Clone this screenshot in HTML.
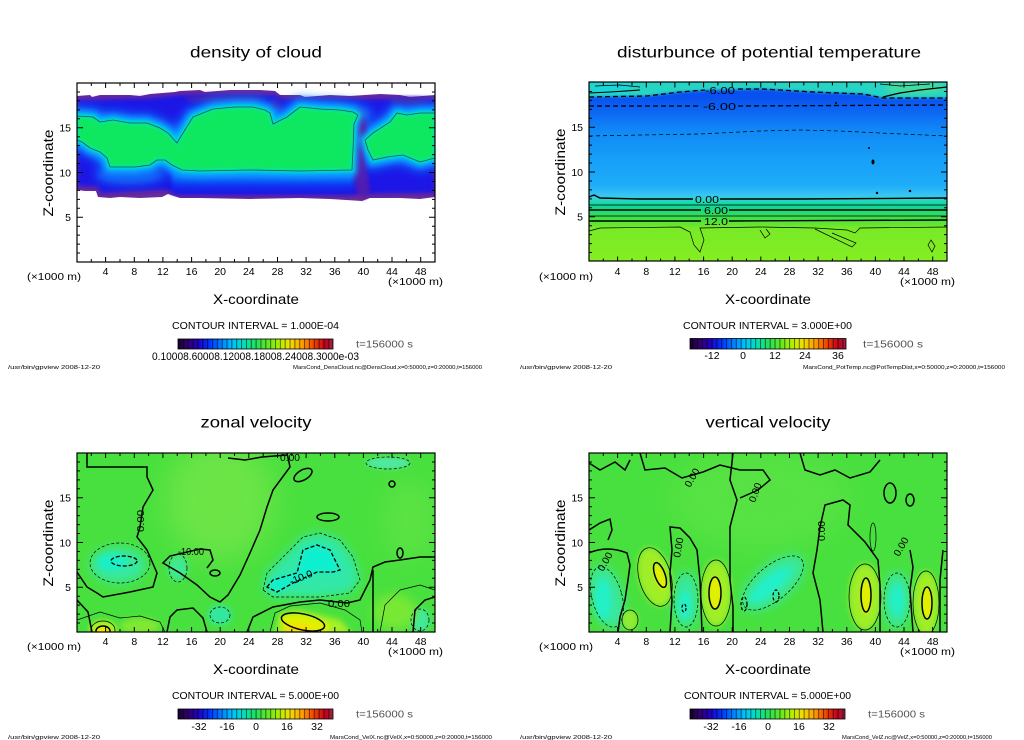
<!DOCTYPE html>
<html><head><meta charset="utf-8"><style>
html,body{margin:0;padding:0;background:#fff;}
svg{display:block;}
text{font-family:"Liberation Sans",sans-serif;fill:#000;}
</style></head><body>
<svg width="1024" height="740" viewBox="0 0 1024 740" xmlns="http://www.w3.org/2000/svg">
<defs>
<filter id="f1" x="-30%" y="-30%" width="160%" height="160%"><feGaussianBlur stdDeviation="1.2"/></filter>
<filter id="f2" x="-30%" y="-30%" width="160%" height="160%"><feGaussianBlur stdDeviation="2"/></filter>
<filter id="f3" x="-60%" y="-60%" width="220%" height="220%"><feGaussianBlur stdDeviation="3"/></filter>
<filter id="f5" x="-80%" y="-80%" width="260%" height="260%"><feGaussianBlur stdDeviation="5"/></filter>
<filter id="f8" x="-100%" y="-100%" width="300%" height="300%"><feGaussianBlur stdDeviation="8"/></filter>
<filter id="f14" x="-100%" y="-100%" width="300%" height="300%"><feGaussianBlur stdDeviation="14"/></filter>
<clipPath id="cA"><rect x="77" y="83" width="358" height="179"/></clipPath>
<clipPath id="cB"><rect x="589" y="82" width="358" height="179"/></clipPath>
<clipPath id="cC"><rect x="77" y="453" width="358" height="179"/></clipPath>
<clipPath id="cD"><rect x="589" y="453" width="358" height="179"/></clipPath>
<linearGradient id="rb" x1="0" y1="0" x2="1" y2="0">
<stop offset="0" stop-color="#1a0030"/><stop offset="0.06" stop-color="#30006a"/><stop offset="0.13" stop-color="#2000c0"/><stop offset="0.2" stop-color="#0030ff"/><stop offset="0.28" stop-color="#0080ff"/><stop offset="0.35" stop-color="#00c0ff"/><stop offset="0.42" stop-color="#00e0c0"/><stop offset="0.5" stop-color="#20e060"/><stop offset="0.58" stop-color="#60e820"/><stop offset="0.66" stop-color="#b8f000"/><stop offset="0.72" stop-color="#f0e000"/><stop offset="0.8" stop-color="#ffa000"/><stop offset="0.88" stop-color="#f04000"/><stop offset="0.95" stop-color="#c00020"/><stop offset="1" stop-color="#a02040"/>
</linearGradient>
<pattern id="seg" patternUnits="userSpaceOnUse" x="178" y="0" width="4.85" height="20"><rect x="0" y="0" width="1" height="20" fill="#000" fill-opacity="0.55"/></pattern>
<linearGradient id="gB" gradientUnits="userSpaceOnUse" x1="0" y1="82" x2="0" y2="261">
<stop offset="0" stop-color="#0a50f0"/><stop offset="0.084" stop-color="#0a50f0"/><stop offset="0.156" stop-color="#0c64f2"/><stop offset="0.268" stop-color="#1088f6"/><stop offset="0.436" stop-color="#16a0f8"/><stop offset="0.575" stop-color="#1eacf8"/><stop offset="0.631" stop-color="#38c4f4"/><stop offset="0.654" stop-color="#30d4d0"/><stop offset="0.676" stop-color="#18d8a8"/><stop offset="0.704" stop-color="#10d890"/><stop offset="0.732" stop-color="#28dc68"/><stop offset="0.76" stop-color="#40e048"/><stop offset="0.788" stop-color="#5ce434"/><stop offset="0.816" stop-color="#78ea26"/><stop offset="1" stop-color="#84ee22"/>
</linearGradient>
<linearGradient id="gAlow" x1="0" y1="0" x2="0" y2="1">
<stop offset="0" stop-color="#20b0ff"/><stop offset="0.3" stop-color="#0a80ff"/><stop offset="0.65" stop-color="#1030f0"/><stop offset="1" stop-color="#1a14e6"/>
</linearGradient>
</defs>
<rect width="1024" height="740" fill="#fff"/>

<!-- ================= PANEL A ================= -->
<g clip-path="url(#cA)">
<path fill="#6b2b9b" d="M77,96 L90,95 L92,97 L100,95 L130,95 L140,96 L150,94 L175,92 L180,91 L200,90 L205,92 L230,90 L260,90 L275,91 L280,95 L300,95 L305,97 L330,95 L350,96 L380,94 L400,95 L410,97 L435,95 L435,197 L420,199 L400,198 L370,198 L362,201 L330,199 L300,198 L250,199 L200,198 L180,198 L168,194 L162,197 L140,198 L120,197 L110,198 L98,197 L96,191 L85,191 L77,190 Z"/>
<path fill="#1a14e6" filter="url(#f2)" d="M77,100 L150,98 L180,95 L275,95 L282,99 L435,99 L435,193 L370,194 L300,194 L180,194 L165,190 L100,193 L98,187 L77,186 Z"/>
<ellipse cx="225" cy="99" rx="40" ry="4" fill="#4a20b0" filter="url(#f2)"/>
<ellipse cx="275" cy="110" rx="7" ry="12" fill="#3a1cc0" filter="url(#f2)"/>
<ellipse cx="410" cy="101" rx="20" ry="4" fill="#4a20b0" filter="url(#f2)"/>
<ellipse cx="130" cy="175" rx="35" ry="9" fill="#1090ff" opacity="0.7" filter="url(#f5)"/>
<rect x="172" y="166" width="182" height="28" fill="url(#gAlow)" filter="url(#f2)"/>
<g fill="none" stroke="#0a78ff" stroke-width="18" filter="url(#f5)">
<path d="M77,116 L93,117 L100,122 L113,120 L130,123 L147,123 L160,128 L168,133 L177,143 L183,133 L193,117 L213,109 L235,107 L253,107 L265,110 L270,113 L273,124 L287,117 L300,107 L320,109 L340,110 L353,112 L360,115 L354,124 L353,150 L352,170 L300,171 L250,170 L200,171 L182,170 L172,165 L165,160 L157,160 L150,165 L135,167 L120,167 L110,167 L107,158 L100,152 L90,148 L82,142 L77,140 Z"/>
<path d="M363,140 L373,133 L390,122 L397,113 L407,115 L420,113 L435,113 L435,158 L420,162 L403,155 L387,157 L373,160 L367,150 Z"/>
</g>
<path fill="#5a1ea8" opacity="0.85" filter="url(#f2)" d="M353,112 L362,110 L368,130 L365,160 L370,190 L364,200 L356,190 L351,150 Z"/>
<g fill="#00c0ff" stroke="#00c0ff" stroke-width="9" filter="url(#f3)">
<path d="M77,116 L93,117 L100,122 L113,120 L130,123 L147,123 L160,128 L168,133 L177,143 L183,133 L193,117 L213,109 L235,107 L253,107 L265,110 L270,113 L273,124 L287,117 L300,107 L320,109 L340,110 L353,112 L358,115 L354,124 L353,150 L352,170 L300,171 L250,170 L200,171 L182,170 L172,165 L165,160 L157,160 L150,165 L135,167 L120,167 L110,167 L107,158 L100,152 L90,148 L82,142 L77,140 Z"/>
<path d="M365,140 L373,133 L390,122 L397,113 L407,115 L420,113 L435,113 L435,158 L420,162 L403,155 L387,157 L373,160 L368,150 Z"/>
</g>
<g fill="#10e860" stroke="#00e0b0" stroke-width="3" filter="url(#f1)">
<path d="M77,116 L93,117 L100,122 L113,120 L130,123 L147,123 L160,128 L168,133 L177,143 L183,133 L193,117 L213,109 L235,107 L253,107 L265,110 L270,113 L273,124 L287,117 L300,107 L320,109 L340,110 L353,112 L358,115 L354,124 L353,150 L352,170 L300,171 L250,170 L200,171 L182,170 L172,165 L165,160 L157,160 L150,165 L135,167 L120,167 L110,167 L107,158 L100,152 L90,148 L82,142 L77,140 Z"/>
<path d="M365,140 L373,133 L390,122 L397,113 L407,115 L420,113 L435,113 L435,158 L420,162 L403,155 L387,157 L373,160 L368,150 Z"/>
</g>
<g fill="none" stroke="#1f5a50" stroke-width="0.8">
<path d="M77,116 L93,117 L100,122 L113,120 L130,123 L147,123 L160,128 L168,133 L177,143 L183,133 L193,117 L213,109 L235,107 L253,107 L265,110 L270,113 L273,124 L287,117 L300,107 L320,109 L340,110 L353,112 L358,115 L354,124 L353,150 L352,170 L300,171 L250,170 L200,171 L182,170 L172,165 L165,160 L157,160 L150,165 L135,167 L120,167 L110,167 L107,158 L100,152 L90,148 L82,142 L77,140"/>
<path d="M435,113 L420,113 L407,115 L397,113 L390,122 L373,133 L365,140 L368,150 L373,160 L387,157 L403,155 L420,162 L435,158"/>
</g>
</g>

<!-- ================= PANEL B ================= -->
<g clip-path="url(#cB)">
<rect x="589" y="82" width="358" height="179" fill="url(#gB)"/>
<path fill="#28d4c4" filter="url(#f1)" d="M585,78 L950,78 L950,98 L883,98 L863,94 L813,92 L763,89 L713,90 L680,92 L647,96 L585,97 Z"/>
<ellipse cx="915" cy="88" rx="30" ry="6" fill="#50e090" opacity="0.7" filter="url(#f2)"/>
<ellipse cx="610" cy="87" rx="20" ry="5" fill="#10d8e8" opacity="0.7" filter="url(#f2)"/>
<g fill="none" stroke="#000">
<path stroke-width="1.3" stroke-dasharray="5,3" d="M589,97 L647,96 L680,92 L705,90 M738,89 L763,89 L813,92 L863,94 L883,98 L947,98"/>
<path stroke-width="1.3" stroke-dasharray="5,3" d="M589,106 L700,106 M738,106 L947,105"/>
<path stroke-width="0.7" stroke-dasharray="4,3" d="M589,136 L640,135 L700,134 L760,131 L800,130 L840,131 L880,133 L947,136"/>
<path stroke-width="1.4" d="M589,197 L594,195 L600,198 L640,199 L693,199 M720,199 L800,199 L947,198"/>
<path stroke-width="0.7" d="M589,205 L947,205"/>
<path stroke-width="1.4" d="M589,210 L701,210 M729,210 L947,210"/>
<path stroke-width="0.7" d="M589,216 L947,216"/>
<path stroke-width="1.4" d="M589,221 L701,221 M729,221 L947,220"/>
<path stroke-width="0.7" d="M589,231 L600,228 L680,227 L690,232 L694,245 L700,252 L704,240 L700,228 L760,227 L815,228 L847,230 L855,233 L860,228 L947,227"/>
<path stroke-width="0.7" d="M815,229 L852,247 L856,243 L832,233"/>
<path stroke-width="0.7" d="M760,230 L765,238 L770,234 L766,229"/>
<path stroke-width="0.7" d="M928,245 L932,252 L935,246 L931,240 Z"/>
<path stroke-width="1.3" d="M883,97 L900,93 L920,90 L947,87"/>
<path stroke-width="1.1" d="M589,93 L610,92 L640,90"/>
<path stroke-width="0.7" d="M595,86 L620,85 L640,87 M880,84 L900,86 L930,84"/>
</g>
<g fill="#000">
<ellipse cx="869" cy="148" rx="1" ry="1"/><ellipse cx="873" cy="162" rx="1.5" ry="2.5"/><ellipse cx="877" cy="193" rx="1.2" ry="1.2"/><ellipse cx="910" cy="191" rx="1.3" ry="1.1"/><ellipse cx="836" cy="103" rx="1" ry="1"/>
</g>
<text x="705" y="94" font-size="10.5" textLength="30" lengthAdjust="spacingAndGlyphs">-6.00</text>
<text x="703" y="110" font-size="10.5" textLength="33" lengthAdjust="spacingAndGlyphs">-6.00</text>
<text x="695" y="203" font-size="10.5" textLength="24" lengthAdjust="spacingAndGlyphs">0.00</text>
<text x="704" y="214" font-size="10.5" textLength="24" lengthAdjust="spacingAndGlyphs">6.00</text>
<text x="704" y="225" font-size="10.5" textLength="24" lengthAdjust="spacingAndGlyphs">12.0</text>
</g>

<!-- ================= PANEL C ================= -->
<g clip-path="url(#cC)">
<rect x="77" y="453" width="358" height="179" fill="#48e03e"/>
<ellipse cx="220" cy="500" rx="55" ry="60" fill="#74e64a" opacity="0.8" filter="url(#f14)"/>
<ellipse cx="410" cy="520" rx="25" ry="40" fill="#66e446" opacity="0.7" filter="url(#f14)"/>
<ellipse cx="118" cy="565" rx="28" ry="18" fill="#38e8a0" filter="url(#f5)"/>
<ellipse cx="112" cy="562" rx="14" ry="8" fill="#18f0c8" filter="url(#f3)"/>
<path fill="#30e8a8" filter="url(#f5)" d="M263,590 L267,573 L287,553 L303,537 L320,533 L340,540 L353,557 L360,580 L350,593 L320,597 L287,597 L273,597 Z"/>
<path fill="#10f0d0" filter="url(#f3)" d="M267,587 L273,580 L297,573 L303,550 L317,545 L330,550 L340,570 L333,572 L317,572 L293,583 L277,592 Z"/>
<ellipse cx="220" cy="615" rx="12" ry="10" fill="#30e8a0" filter="url(#f3)"/>
<ellipse cx="178" cy="568" rx="10" ry="13" fill="#40e890" filter="url(#f3)"/>
<ellipse cx="388" cy="463" rx="22" ry="6" fill="#50e8a0" filter="url(#f2)"/>
<ellipse cx="420" cy="620" rx="10" ry="12" fill="#40e8a0" filter="url(#f3)"/>
<ellipse cx="140" cy="626" rx="20" ry="8" fill="#80e830" filter="url(#f3)"/>
<ellipse cx="395" cy="612" rx="22" ry="18" fill="#78e836" filter="url(#f5)"/>
<path fill="#a8f028" filter="url(#f3)" d="M275,634 L280,613 L297,610 L320,615 L340,620 L352,634 Z"/>
<ellipse cx="305" cy="624" rx="25" ry="8" fill="#e0f000" transform="rotate(10 305 624)" filter="url(#f2)"/>
<ellipse cx="297" cy="628" rx="14" ry="4" fill="#f8e000" filter="url(#f1)"/>
<ellipse cx="103" cy="630" rx="14" ry="10" fill="#a8f028" filter="url(#f2)"/>
<ellipse cx="103" cy="631" rx="7" ry="5" fill="#f0e800" filter="url(#f1)"/>
<g fill="none" stroke="#000" stroke-width="1.5">
<path d="M87,453 L87,467 L147,467 L147,477 L153,490 L143,507 L140,527 L137,537 L147,550 L157,573 L153,587 L130,592 L103,597 L97,593 L87,587 L77,572"/>
<path d="M77,600 L88,612 L92,632"/>
<path d="M287,453 L290,467 L273,490 L267,507 L260,530 L250,553 L240,575 L228,595 L220,602 L210,597 L197,585 L180,573 L163,563 L170,556 L200,549 L210,550 L213,560 L207,568"/>
<path d="M167,632 L170,617 L177,610 L193,608 L203,618 L207,632"/>
<path d="M247,632 L253,617 L273,607 L300,602 L320,600 L347,603 L360,600 L370,580 L373,567 L385,562 L400,560 L420,557 L435,557"/>
<path d="M373,570 L373,632"/>
<path d="M228,458 L245,460 L262,457 L287,455"/>
<ellipse cx="303" cy="475" rx="10" ry="5" transform="rotate(-30 303 475)"/>
<ellipse cx="328" cy="517" rx="11" ry="4"/>
<ellipse cx="215" cy="573" rx="5" ry="3"/>
<ellipse cx="392" cy="484" rx="3" ry="3"/>
<ellipse cx="400" cy="553" rx="3" ry="5"/>
<ellipse cx="103" cy="631" rx="7" ry="5"/>
<ellipse cx="303" cy="622" rx="22" ry="8" transform="rotate(12 303 622)"/>
<path d="M413,632 L415,610 L425,600 L435,597"/>
</g>
<g fill="none" stroke="#000" stroke-width="0.7">
<path d="M270,632 L275,613 L290,606 L320,603 L345,610 L360,620 L362,632"/>
<ellipse cx="103" cy="630" rx="12" ry="9"/>
<path d="M77,620 L100,612 L120,618 L140,616 L160,622 L165,632"/>
<path d="M380,632 L385,605 L400,590 L420,585 L435,590"/>
</g>
<g fill="none" stroke="#000" stroke-width="0.7" stroke-dasharray="3,2">
<ellipse cx="120" cy="563" rx="30" ry="20"/>
<path d="M263,590 L267,573 L287,553 L303,537 L320,533 L340,540 L353,557 L360,580 L350,593 L320,597 L287,597 L273,597 Z"/>
<ellipse cx="178" cy="568" rx="9" ry="14"/>
<ellipse cx="220" cy="615" rx="10" ry="8"/>
<ellipse cx="388" cy="463" rx="22" ry="6"/>
<ellipse cx="420" cy="620" rx="9" ry="11"/>
</g>
<g fill="none" stroke="#000" stroke-width="1.3" stroke-dasharray="4,2">
<ellipse cx="124" cy="561" rx="13" ry="5"/>
<path d="M267,587 L273,580 L297,573 L303,550 L317,545 L330,550 L340,570 L333,572 L317,572 L293,583 L277,592 Z"/>
</g>
<text font-size="10" transform="translate(144,532) rotate(-90)" textLength="22" lengthAdjust="spacingAndGlyphs">0.00</text>
<text x="178" y="555" font-size="10" textLength="26" lengthAdjust="spacingAndGlyphs">-10.00</text>
<text font-size="10" transform="translate(291,585) rotate(-22)" textLength="24" lengthAdjust="spacingAndGlyphs">-10.0</text>
<text x="328" y="607" font-size="10" textLength="22" lengthAdjust="spacingAndGlyphs">0.00</text>
<text x="280" y="461" font-size="10" textLength="20" lengthAdjust="spacingAndGlyphs">0.00</text>
</g>

<!-- ================= PANEL D ================= -->
<g clip-path="url(#cD)">
<rect x="589" y="453" width="358" height="179" fill="#48e03e"/>
<ellipse cx="760" cy="500" rx="90" ry="50" fill="#60e446" opacity="0.6" filter="url(#f14)"/>
<ellipse cx="607" cy="597" rx="16" ry="32" fill="#38e8a0" transform="rotate(-15 607 597)" filter="url(#f5)"/>
<ellipse cx="603" cy="600" rx="8" ry="20" fill="#20f0c8" filter="url(#f3)"/>
<ellipse cx="686" cy="600" rx="13" ry="28" fill="#38e8a0" filter="url(#f5)"/>
<ellipse cx="685" cy="605" rx="6" ry="14" fill="#20f0c8" filter="url(#f3)"/>
<ellipse cx="773" cy="583" rx="38" ry="18" fill="#38e8a0" transform="rotate(-40 773 583)" filter="url(#f5)"/>
<ellipse cx="770" cy="585" rx="25" ry="8" fill="#20f0c8" transform="rotate(-40 770 585)" filter="url(#f3)"/>
<ellipse cx="897" cy="600" rx="14" ry="28" fill="#38e8a0" filter="url(#f5)"/>
<ellipse cx="897" cy="600" rx="7" ry="15" fill="#20f0c8" filter="url(#f3)"/>
<ellipse cx="655" cy="577" rx="16" ry="30" fill="#a0ee28" transform="rotate(-15 655 577)" filter="url(#f3)"/>
<ellipse cx="660" cy="577" rx="5" ry="13" fill="#e0f000" transform="rotate(-20 660 577)" filter="url(#f1)"/>
<ellipse cx="716" cy="593" rx="15" ry="33" fill="#a0ee28" filter="url(#f3)"/>
<ellipse cx="715" cy="593" rx="6" ry="16" fill="#e0f000" filter="url(#f1)"/>
<ellipse cx="865" cy="597" rx="16" ry="33" fill="#a0ee28" filter="url(#f3)"/>
<ellipse cx="866" cy="597" rx="5" ry="17" fill="#e0f000" filter="url(#f1)"/>
<ellipse cx="926" cy="603" rx="13" ry="32" fill="#a0ee28" filter="url(#f3)"/>
<ellipse cx="927" cy="603" rx="5" ry="16" fill="#e0f000" filter="url(#f1)"/>
<ellipse cx="630" cy="620" rx="8" ry="10" fill="#90ec30" filter="url(#f2)"/>
<g fill="none" stroke="#000" stroke-width="1.5">
<path d="M589,553 Q607,545 627,553 L630,565 L628,580 L625,600 L620,617 L618,632"/>
<path d="M589,530 L600,523 L610,519 L612,530 L608,540"/>
<path d="M670,632 L672,600 L670,573 L672,550 L670,527 L680,528 L690,538 L697,550 L700,580 L702,632"/>
<path d="M733,453 L730,480 L737,500 L730,527 L730,553 L730,580 L733,607 L733,632"/>
<path d="M820,527 L817,550 L813,573 L820,600 L823,632"/>
<path d="M820,527 L825,505 L843,500 L850,505 L848,525 L865,542 L878,560 L880,585 L880,632"/>
<path d="M910,550 L913,567 L910,590 L913,632"/>
<path d="M943,550 L940,580 L940,632"/>
<path d="M640,453 L645,470 L665,468 L682,478 L703,472 L720,465 L740,470 L763,470 L770,480 L758,490 L740,498"/>
<path d="M589,463 L600,470 L615,462 L625,470 L630,460"/>
<path d="M800,453 L805,470 L820,475 L835,470 L850,478 L870,472 L880,460"/>
<ellipse cx="890" cy="493" rx="6" ry="10"/>
<ellipse cx="660" cy="575" rx="5" ry="13" transform="rotate(-20 660 575)"/>
<ellipse cx="715" cy="593" rx="6" ry="16"/>
<ellipse cx="866" cy="595" rx="5" ry="17"/>
<ellipse cx="927" cy="603" rx="5" ry="16"/>
<ellipse cx="910" cy="500" rx="4" ry="6"/>
</g>
<g fill="none" stroke="#000" stroke-width="0.7">
<ellipse cx="655" cy="577" rx="16" ry="30" transform="rotate(-15 655 577)"/>
<ellipse cx="716" cy="593" rx="15" ry="33"/>
<ellipse cx="865" cy="597" rx="16" ry="33"/>
<ellipse cx="926" cy="603" rx="13" ry="32"/>
<ellipse cx="630" cy="620" rx="8" ry="10"/>
<ellipse cx="873" cy="537" rx="3" ry="14"/>
</g>
<g fill="none" stroke="#000" stroke-width="0.7" stroke-dasharray="3,2">
<ellipse cx="607" cy="597" rx="15" ry="31" transform="rotate(-15 607 597)"/>
<ellipse cx="686" cy="600" rx="12" ry="27"/>
<ellipse cx="773" cy="583" rx="37" ry="17" transform="rotate(-40 773 583)"/>
<ellipse cx="897" cy="600" rx="13" ry="27"/>
</g>
<g fill="none" stroke="#000" stroke-width="1.2" stroke-dasharray="3,2">
<ellipse cx="776" cy="596" rx="3" ry="6"/>
<ellipse cx="744" cy="604" rx="3" ry="7"/>
<ellipse cx="684" cy="608" rx="2" ry="4"/>
</g>
<text font-size="10" transform="translate(603,572) rotate(-60)" textLength="20" lengthAdjust="spacingAndGlyphs">0.00</text>
<text font-size="10" transform="translate(680,558) rotate(-80)" textLength="20" lengthAdjust="spacingAndGlyphs">0.00</text>
<text font-size="10" transform="translate(690,488) rotate(-60)" textLength="20" lengthAdjust="spacingAndGlyphs">0.00</text>
<text font-size="10" transform="translate(755,503) rotate(-70)" textLength="20" lengthAdjust="spacingAndGlyphs">0.00</text>
<text font-size="10" transform="translate(825,541) rotate(-90)" textLength="20" lengthAdjust="spacingAndGlyphs">0.00</text>
<text font-size="10" transform="translate(899,557) rotate(-60)" textLength="20" lengthAdjust="spacingAndGlyphs">0.00</text>
</g>

<!-- ================= FRAMES & TICKS ================= -->
<g fill="none" stroke="#000" stroke-width="1.2">
<rect x="77" y="83" width="358" height="179"/>
<rect x="589" y="82" width="358" height="179"/>
<rect x="77" y="453" width="358" height="179"/>
<rect x="589" y="453" width="358" height="179"/>
</g>
<g fill="none" stroke="#000" stroke-width="1">
<path d="M105.6 262V257M134.3 262V257M162.9 262V257M191.6 262V257M220.2 262V257M248.8 262V257M277.5 262V257M306.1 262V257M334.8 262V257M363.4 262V257M392 262V257M420.7 262V257M91.3 262V259M120 262V259M148.6 262V259M177.2 262V259M205.9 262V259M234.5 262V259M263.2 262V259M291.8 262V259M320.4 262V259M349.1 262V259M377.7 262V259M406.4 262V259M105.6 83V88M134.3 83V88M162.9 83V88M191.6 83V88M220.2 83V88M248.8 83V88M277.5 83V88M306.1 83V88M334.8 83V88M363.4 83V88M392 83V88M420.7 83V88M91.3 83V86M120 83V86M148.6 83V86M177.2 83V86M205.9 83V86M234.5 83V86M263.2 83V86M291.8 83V86M320.4 83V86M349.1 83V86M377.7 83V86M406.4 83V86M77 253.05H80M77 244.1H80M77 235.15H80M77 226.2H80M77 208.3H80M77 199.35H80M77 190.4H80M77 181.45H80M77 163.55H80M77 154.6H80M77 145.65H80M77 136.7H80M77 118.8H80M77 109.85H80M77 100.9H80M77 91.95H80M77 217.25H83M77 172.5H83M77 127.75H83M435 253.05H432M435 244.1H432M435 235.15H432M435 226.2H432M435 208.3H432M435 199.35H432M435 190.4H432M435 181.45H432M435 163.55H432M435 154.6H432M435 145.65H432M435 136.7H432M435 118.8H432M435 109.85H432M435 100.9H432M435 91.95H432M435 217.25H429M435 172.5H429M435 127.75H429"/>
<path transform="translate(512,-0.5)" d="M105.6 262V257M134.3 262V257M162.9 262V257M191.6 262V257M220.2 262V257M248.8 262V257M277.5 262V257M306.1 262V257M334.8 262V257M363.4 262V257M392 262V257M420.7 262V257M91.3 262V259M120 262V259M148.6 262V259M177.2 262V259M205.9 262V259M234.5 262V259M263.2 262V259M291.8 262V259M320.4 262V259M349.1 262V259M377.7 262V259M406.4 262V259M105.6 83V88M134.3 83V88M162.9 83V88M191.6 83V88M220.2 83V88M248.8 83V88M277.5 83V88M306.1 83V88M334.8 83V88M363.4 83V88M392 83V88M420.7 83V88M91.3 83V86M120 83V86M148.6 83V86M177.2 83V86M205.9 83V86M234.5 83V86M263.2 83V86M291.8 83V86M320.4 83V86M349.1 83V86M377.7 83V86M406.4 83V86M77 253.05H80M77 244.1H80M77 235.15H80M77 226.2H80M77 208.3H80M77 199.35H80M77 190.4H80M77 181.45H80M77 163.55H80M77 154.6H80M77 145.65H80M77 136.7H80M77 118.8H80M77 109.85H80M77 100.9H80M77 91.95H80M77 217.25H83M77 172.5H83M77 127.75H83M435 253.05H432M435 244.1H432M435 235.15H432M435 226.2H432M435 208.3H432M435 199.35H432M435 190.4H432M435 181.45H432M435 163.55H432M435 154.6H432M435 145.65H432M435 136.7H432M435 118.8H432M435 109.85H432M435 100.9H432M435 91.95H432M435 217.25H429M435 172.5H429M435 127.75H429"/>
<path transform="translate(0,370)" d="M105.6 262V257M134.3 262V257M162.9 262V257M191.6 262V257M220.2 262V257M248.8 262V257M277.5 262V257M306.1 262V257M334.8 262V257M363.4 262V257M392 262V257M420.7 262V257M91.3 262V259M120 262V259M148.6 262V259M177.2 262V259M205.9 262V259M234.5 262V259M263.2 262V259M291.8 262V259M320.4 262V259M349.1 262V259M377.7 262V259M406.4 262V259M105.6 83V88M134.3 83V88M162.9 83V88M191.6 83V88M220.2 83V88M248.8 83V88M277.5 83V88M306.1 83V88M334.8 83V88M363.4 83V88M392 83V88M420.7 83V88M91.3 83V86M120 83V86M148.6 83V86M177.2 83V86M205.9 83V86M234.5 83V86M263.2 83V86M291.8 83V86M320.4 83V86M349.1 83V86M377.7 83V86M406.4 83V86M77 253.05H80M77 244.1H80M77 235.15H80M77 226.2H80M77 208.3H80M77 199.35H80M77 190.4H80M77 181.45H80M77 163.55H80M77 154.6H80M77 145.65H80M77 136.7H80M77 118.8H80M77 109.85H80M77 100.9H80M77 91.95H80M77 217.25H83M77 172.5H83M77 127.75H83M435 253.05H432M435 244.1H432M435 235.15H432M435 226.2H432M435 208.3H432M435 199.35H432M435 190.4H432M435 181.45H432M435 163.55H432M435 154.6H432M435 145.65H432M435 136.7H432M435 118.8H432M435 109.85H432M435 100.9H432M435 91.95H432M435 217.25H429M435 172.5H429M435 127.75H429"/>
<path transform="translate(512,370)" d="M105.6 262V257M134.3 262V257M162.9 262V257M191.6 262V257M220.2 262V257M248.8 262V257M277.5 262V257M306.1 262V257M334.8 262V257M363.4 262V257M392 262V257M420.7 262V257M91.3 262V259M120 262V259M148.6 262V259M177.2 262V259M205.9 262V259M234.5 262V259M263.2 262V259M291.8 262V259M320.4 262V259M349.1 262V259M377.7 262V259M406.4 262V259M105.6 83V88M134.3 83V88M162.9 83V88M191.6 83V88M220.2 83V88M248.8 83V88M277.5 83V88M306.1 83V88M334.8 83V88M363.4 83V88M392 83V88M420.7 83V88M91.3 83V86M120 83V86M148.6 83V86M177.2 83V86M205.9 83V86M234.5 83V86M263.2 83V86M291.8 83V86M320.4 83V86M349.1 83V86M377.7 83V86M406.4 83V86M77 253.05H80M77 244.1H80M77 235.15H80M77 226.2H80M77 208.3H80M77 199.35H80M77 190.4H80M77 181.45H80M77 163.55H80M77 154.6H80M77 145.65H80M77 136.7H80M77 118.8H80M77 109.85H80M77 100.9H80M77 91.95H80M77 217.25H83M77 172.5H83M77 127.75H83M435 253.05H432M435 244.1H432M435 235.15H432M435 226.2H432M435 208.3H432M435 199.35H432M435 190.4H432M435 181.45H432M435 163.55H432M435 154.6H432M435 145.65H432M435 136.7H432M435 118.8H432M435 109.85H432M435 100.9H432M435 91.95H432M435 217.25H429M435 172.5H429M435 127.75H429"/>
</g>

<!-- ================= TEXT ================= -->
<g font-size="16">
<text x="256" y="57.5" text-anchor="middle" textLength="132" lengthAdjust="spacingAndGlyphs">density of cloud</text>
<text x="769" y="57.5" text-anchor="middle" textLength="304" lengthAdjust="spacingAndGlyphs">disturbunce of potential temperature</text>
<text x="256" y="427.5" text-anchor="middle" textLength="111" lengthAdjust="spacingAndGlyphs">zonal velocity</text>
<text x="768" y="427.5" text-anchor="middle" textLength="125" lengthAdjust="spacingAndGlyphs">vertical velocity</text>
</g>
<g font-size="14">
<text x="256" y="304" text-anchor="middle" textLength="86" lengthAdjust="spacingAndGlyphs">X-coordinate</text>
<text x="768" y="304" text-anchor="middle" textLength="86" lengthAdjust="spacingAndGlyphs">X-coordinate</text>
<text x="256" y="674" text-anchor="middle" textLength="86" lengthAdjust="spacingAndGlyphs">X-coordinate</text>
<text x="768" y="674" text-anchor="middle" textLength="86" lengthAdjust="spacingAndGlyphs">X-coordinate</text>
<text transform="translate(53,173) rotate(-90)" text-anchor="middle" textLength="87" lengthAdjust="spacingAndGlyphs">Z-coordinate</text>
<text transform="translate(565,172) rotate(-90)" text-anchor="middle" textLength="87" lengthAdjust="spacingAndGlyphs">Z-coordinate</text>
<text transform="translate(53,543) rotate(-90)" text-anchor="middle" textLength="87" lengthAdjust="spacingAndGlyphs">Z-coordinate</text>
<text transform="translate(565,543) rotate(-90)" text-anchor="middle" textLength="87" lengthAdjust="spacingAndGlyphs">Z-coordinate</text>
</g>
<g font-size="10.5">
<text x="27" y="280" textLength="54" lengthAdjust="spacingAndGlyphs">(×1000 m)</text>
<text x="388" y="285" textLength="55" lengthAdjust="spacingAndGlyphs">(×1000 m)</text>
<text x="539" y="280" textLength="54" lengthAdjust="spacingAndGlyphs">(×1000 m)</text>
<text x="900" y="285" textLength="55" lengthAdjust="spacingAndGlyphs">(×1000 m)</text>
<text x="27" y="650" textLength="54" lengthAdjust="spacingAndGlyphs">(×1000 m)</text>
<text x="388" y="655" textLength="55" lengthAdjust="spacingAndGlyphs">(×1000 m)</text>
<text x="539" y="650" textLength="54" lengthAdjust="spacingAndGlyphs">(×1000 m)</text>
<text x="900" y="655" textLength="55" lengthAdjust="spacingAndGlyphs">(×1000 m)</text>
</g>
<g font-size="10.5" text-anchor="middle">
<text x="105.6" y="275">4</text><text x="134.3" y="275">8</text><text x="162.9" y="275">12</text><text x="191.6" y="275">16</text><text x="220.2" y="275">20</text><text x="248.8" y="275">24</text><text x="277.5" y="275">28</text><text x="306.1" y="275">32</text><text x="334.8" y="275">36</text><text x="363.4" y="275">40</text><text x="392" y="275">44</text><text x="420.7" y="275">48</text>
<text x="617.6" y="275">4</text><text x="646.3" y="275">8</text><text x="674.9" y="275">12</text><text x="703.6" y="275">16</text><text x="732.2" y="275">20</text><text x="760.8" y="275">24</text><text x="789.5" y="275">28</text><text x="818.1" y="275">32</text><text x="846.8" y="275">36</text><text x="875.4" y="275">40</text><text x="904" y="275">44</text><text x="932.7" y="275">48</text>
<text x="105.6" y="645">4</text><text x="134.3" y="645">8</text><text x="162.9" y="645">12</text><text x="191.6" y="645">16</text><text x="220.2" y="645">20</text><text x="248.8" y="645">24</text><text x="277.5" y="645">28</text><text x="306.1" y="645">32</text><text x="334.8" y="645">36</text><text x="363.4" y="645">40</text><text x="392" y="645">44</text><text x="420.7" y="645">48</text>
<text x="617.6" y="645">4</text><text x="646.3" y="645">8</text><text x="674.9" y="645">12</text><text x="703.6" y="645">16</text><text x="732.2" y="645">20</text><text x="760.8" y="645">24</text><text x="789.5" y="645">28</text><text x="818.1" y="645">32</text><text x="846.8" y="645">36</text><text x="875.4" y="645">40</text><text x="904" y="645">44</text><text x="932.7" y="645">48</text>
</g>
<g font-size="10.5" text-anchor="end">
<text x="71" y="131.5">15</text><text x="71" y="176.5">10</text><text x="71" y="221">5</text>
<text x="583" y="131">15</text><text x="583" y="176">10</text><text x="583" y="220.5">5</text>
<text x="71" y="501.5">15</text><text x="71" y="546.5">10</text><text x="71" y="591">5</text>
<text x="583" y="501.5">15</text><text x="583" y="546.5">10</text><text x="583" y="591">5</text>
</g>

<!-- ================= COLORBARS ================= -->
<g font-size="10.5">
<text x="172" y="329" textLength="167" lengthAdjust="spacingAndGlyphs">CONTOUR INTERVAL = 1.000E-04</text>
<text x="683" y="329" textLength="169" lengthAdjust="spacingAndGlyphs">CONTOUR INTERVAL = 3.000E+00</text>
<text x="172" y="699" textLength="167" lengthAdjust="spacingAndGlyphs">CONTOUR INTERVAL = 5.000E+00</text>
<text x="684" y="699" textLength="167" lengthAdjust="spacingAndGlyphs">CONTOUR INTERVAL = 5.000E+00</text>
</g>
<rect x="178" y="339" width="155" height="10" fill="url(#rb)"/>
<rect x="178" y="339" width="155" height="10" fill="url(#seg)"/>
<rect x="178" y="339" width="155" height="10" fill="none" stroke="#000" stroke-width="0.8"/>
<rect x="690" y="338.5" width="156" height="10.5" fill="url(#rb)"/>
<rect x="690" y="338.5" width="156" height="10.5" fill="url(#seg)"/>
<rect x="690" y="338.5" width="156" height="10.5" fill="none" stroke="#000" stroke-width="0.8"/>
<rect x="178" y="709" width="155" height="10" fill="url(#rb)"/>
<rect x="178" y="709" width="155" height="10" fill="url(#seg)"/>
<rect x="178" y="709" width="155" height="10" fill="none" stroke="#000" stroke-width="0.8"/>
<rect x="690" y="709" width="155" height="10" fill="url(#rb)"/>
<rect x="690" y="709" width="155" height="10" fill="url(#seg)"/>
<rect x="690" y="709" width="155" height="10" fill="none" stroke="#000" stroke-width="0.8"/>
<g font-size="10">
<text x="356" y="347.5" textLength="57" lengthAdjust="spacingAndGlyphs" style="fill:#555">t=156000 s</text>
<text x="863" y="347.5" textLength="60" lengthAdjust="spacingAndGlyphs" style="fill:#555">t=156000 s</text>
<text x="356" y="717.5" textLength="57" lengthAdjust="spacingAndGlyphs" style="fill:#555">t=156000 s</text>
<text x="868" y="717.5" textLength="57" lengthAdjust="spacingAndGlyphs" style="fill:#555">t=156000 s</text>
</g>
<text x="152" y="360" font-size="11" textLength="207" lengthAdjust="spacingAndGlyphs">0.10008.60008.12008.18008.24008.3000e-03</text>
<g font-size="10.5" text-anchor="middle">
<text x="712" y="359">-12</text><text x="743" y="359">0</text><text x="775" y="359">12</text><text x="805" y="359">24</text><text x="838" y="359">36</text>
<text x="199" y="730">-32</text><text x="227" y="730">-16</text><text x="256" y="730">0</text><text x="287" y="730">16</text><text x="317" y="730">32</text>
<text x="711" y="730">-32</text><text x="739" y="730">-16</text><text x="768" y="730">0</text><text x="799" y="730">16</text><text x="829" y="730">32</text>
</g>

<!-- ================= FOOTERS ================= -->
<g font-size="5.5">
<text x="8" y="369" textLength="92" lengthAdjust="spacingAndGlyphs">/usr/bin/gpview   2008-12-20</text>
<text x="293" y="369" textLength="189" lengthAdjust="spacingAndGlyphs">MarsCond_DensCloud.nc@DensCloud,x=0:50000,z=0:20000,t=156000</text>
<text x="520" y="369" textLength="92" lengthAdjust="spacingAndGlyphs">/usr/bin/gpview   2008-12-20</text>
<text x="803" y="369" textLength="202" lengthAdjust="spacingAndGlyphs">MarsCond_PotTemp.nc@PotTempDist,x=0:50000,z=0:20000,t=156000</text>
<text x="8" y="739" textLength="92" lengthAdjust="spacingAndGlyphs">/usr/bin/gpview   2008-12-20</text>
<text x="330" y="739" textLength="162" lengthAdjust="spacingAndGlyphs">MarsCond_VelX.nc@VelX,x=0:50000,z=0:20000,t=156000</text>
<text x="520" y="739" textLength="92" lengthAdjust="spacingAndGlyphs">/usr/bin/gpview   2008-12-20</text>
<text x="842" y="739" textLength="150" lengthAdjust="spacingAndGlyphs">MarsCond_VelZ.nc@VelZ,x=0:50000,z=0:20000,t=156000</text>
</g>
</svg>
</body></html>
